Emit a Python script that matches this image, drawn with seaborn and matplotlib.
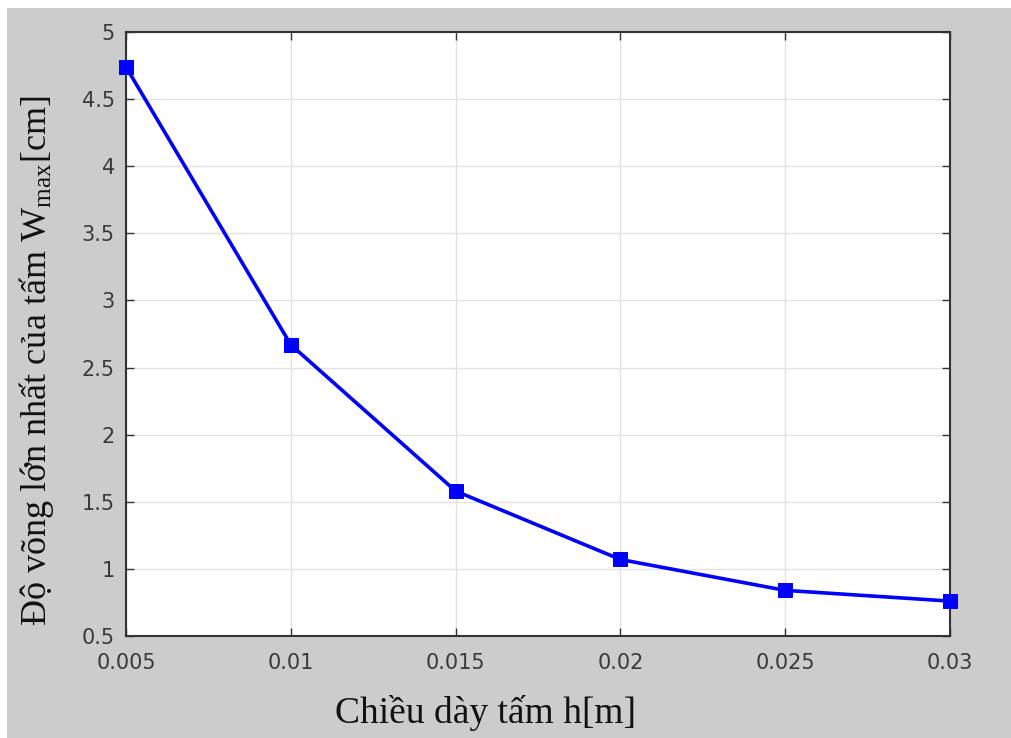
import matplotlib
matplotlib.use("Agg")
import matplotlib.pyplot as plt
from matplotlib.patches import Rectangle
import seaborn as sns
import pandas as pd

# Plate thickness h [m] and maximum deflection W_max [cm]
thickness = [0.005, 0.010, 0.015, 0.020, 0.025, 0.030]
deflection = [4.74, 2.67, 1.58, 1.07, 0.84, 0.76]

x_ticks = [0.005, 0.01, 0.015, 0.02, 0.025, 0.03]
x_tick_labels = ["0.005", "0.01", "0.015", "0.02", "0.025", "0.03"]
y_ticks = [0.5, 1, 1.5, 2, 2.5, 3, 3.5, 4, 4.5, 5]
y_tick_labels = ["0.5", "1", "1.5", "2", "2.5", "3", "3.5", "4", "4.5", "5"]

df = pd.DataFrame({"h": thickness, "w": deflection})

sns.set_style("ticks")
plt.rcParams["font.family"] = ["DejaVu Sans"]
plt.rcParams["mathtext.fontset"] = "custom"
plt.rcParams["mathtext.rm"] = "Liberation Serif"
plt.rcParams["mathtext.it"] = "Liberation Serif:italic"

W, H = 1012, 738
fig = plt.figure(figsize=(W / 100, H / 100), dpi=100, facecolor="#cccccc")
# thin white margin along the top and left edges of the window
fig.patches.append(Rectangle((0, 1 - 8 / H), 1, 8 / H, transform=fig.transFigure,
                             facecolor="white", edgecolor="none"))
fig.patches.append(Rectangle((0, 0), 7 / W, 1, transform=fig.transFigure,
                             facecolor="white", edgecolor="none"))

ax = fig.add_axes([126 / W, 1 - 636 / H, 824 / W, 604 / H])
ax.set_facecolor("white")

sns.lineplot(data=df, x="h", y="w", ax=ax, color="#0000ff", linewidth=2.6,
             marker="s", markersize=9.5, markeredgecolor="#0000ff", zorder=3,
             clip_on=False)

ax.set_xlim(0.005, 0.03)
ax.set_ylim(0.5, 5)
ax.set_xticks(x_ticks)
ax.set_xticklabels(x_tick_labels)
ax.set_yticks(y_ticks)
ax.set_yticklabels(y_tick_labels)

ax.grid(True, color="#e2e2e2", linewidth=1.0, linestyle="-")
ax.set_axisbelow(True)
ax.tick_params(direction="in", length=6, width=1, color="#333333",
               top=True, right=True, labelsize=15, labelcolor="#3a3a3a")
ax.tick_params(axis="x", pad=12)
ax.tick_params(axis="y", pad=8)
for s in ax.spines.values():
    s.set_visible(True)
    s.set_color("#333333")
    s.set_linewidth(1.5)

ax.set_xlabel("Chiều dày tấm h[m]", family="Liberation Serif", fontsize=27,
              color="#111111")
ax.set_ylabel("Độ võng lớn nhất của tấm W$_{\\mathrm{max}}$[cm]",
              family="Liberation Serif", fontsize=26, color="#111111")
ax.xaxis.set_label_coords(0.436, -0.098)
ax.yaxis.set_label_coords(-0.085, 0.455)

fig.savefig("out.png", dpi=100, facecolor=fig.get_facecolor())
